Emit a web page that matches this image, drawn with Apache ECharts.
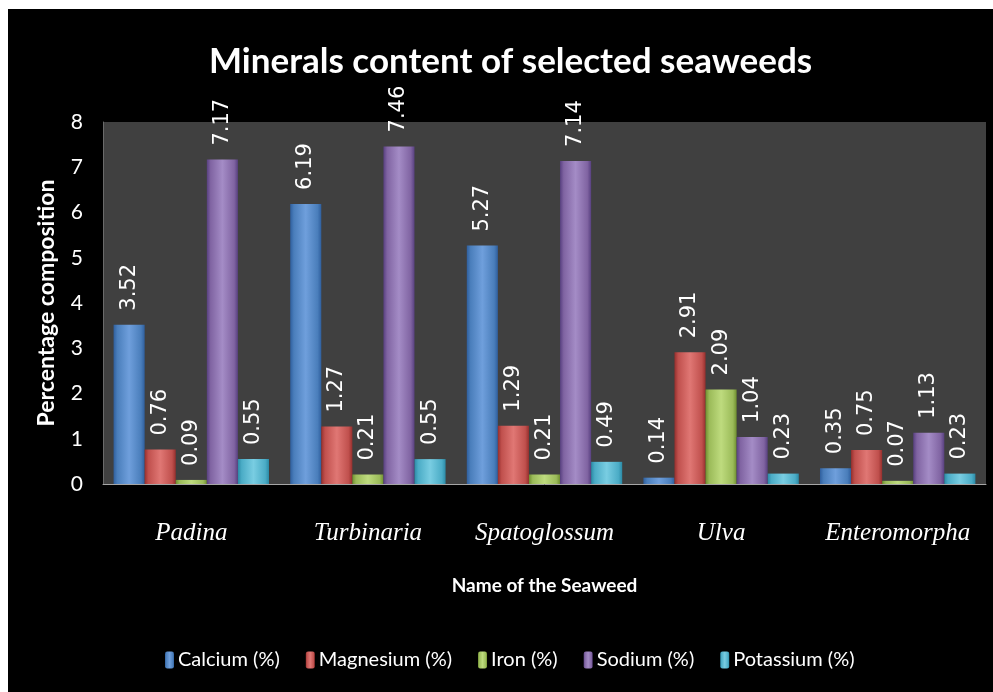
<!DOCTYPE html>
<html>
<head>
<meta charset="utf-8">
<script src="https://cdn.jsdelivr.net/npm/echarts@6/dist/echarts.min.js"></script>
<style>
html,body{margin:0;padding:0;background:#fff;}
#c{width:993px;height:692px;}
</style>
</head>
<body>
<div id="c"></div>
<script>
const categories = ['Padina', 'Turbinaria', 'Spatoglossum', 'Ulva', 'Enteromorpha'];
const seriesNames = ['Calcium (%)', 'Magnesium (%)', 'Iron (%)', 'Sodium (%)', 'Potassium (%)'];
const calcium   = [3.52, 6.19, 5.27, 0.14, 0.35];
const magnesium = [0.76, 1.27, 1.29, 2.91, 0.75];
const iron      = [0.09, 0.21, 0.21, 2.09, 0.07];
const sodium    = [7.17, 7.46, 7.14, 1.04, 1.13];
const potassium = [0.55, 0.55, 0.49, 0.23, 0.23];
const yTicks = [0, 1, 2, 3, 4, 5, 6, 7, 8];

const seriesValues = [calcium, magnesium, iron, sodium, potassium];
const palette = [
  ['#2f5f9e', '#4a7ebb', '#6f9fdc'],
  ['#962f2d', '#c0504d', '#e07774'],
  ['#6f8f2f', '#9bbb59', '#bedb7e'],
  ['#584080', '#8064a2', '#a48cc6'],
  ['#2b8aa6', '#4bacc6', '#79cde2']
];
function grad(p) {
  return new echarts.graphic.LinearGradient(0, 0, 1, 0, [
    {offset: 0, color: p[0]},
    {offset: 0.12, color: p[1]},
    {offset: 0.5, color: p[2]},
    {offset: 0.88, color: p[1]},
    {offset: 1, color: p[0]}
  ]);
}

const chart = echarts.init(document.getElementById('c'));
chart.setOption({
  backgroundColor: '#000',
  animation: false,
  graphic: [
    {type: 'rect', shape: {x: 0, y: 0, width: 993, height: 9}, style: {fill: '#fff'}, silent: true},
    {type: 'rect', shape: {x: 0, y: 0, width: 8, height: 692}, style: {fill: '#fff'}, silent: true}
  ],
  title: {
    text: 'Minerals content of selected seaweeds',
    left: 209,
    top: 44,
    padding: 0,
    textStyle: {color: '#fff', fontFamily: 'Lato', fontWeight: 'bold', fontSize: 35}
  },
  legend: {
    data: seriesNames,
    left: 160,
    top: 645,
    itemWidth: 9,
    itemHeight: 17,
    itemGap: 26,
    textStyle: {color: '#fff', fontFamily: 'Lato', fontSize: 20, padding: [0, 0, 0, -1]}
  },
  grid: {
    left: 103, right: 7, top: 122, bottom: 208,
    show: true, backgroundColor: '#404040', borderWidth: 0,
    containLabel: false
  },
  xAxis: {
    type: 'category',
    data: categories,
    name: 'Name of the Seaweed',
    nameLocation: 'middle',
    nameGap: 92,
    nameTextStyle: {color: '#fff', fontFamily: 'Lato', fontWeight: 'bold', fontSize: 19},
    axisLine: {lineStyle: {color: '#a6a6a6', width: 1}},
    axisTick: {show: false},
    axisLabel: {interval: 0, color: '#fff', fontFamily: 'Liberation Serif', fontStyle: 'italic', fontSize: 25, margin: 37}
  },
  yAxis: {
    type: 'value',
    min: 0, max: 8, interval: 1,
    name: 'Percentage composition',
    nameLocation: 'middle',
    nameGap: 45,
    nameTextStyle: {color: '#fff', fontFamily: 'Lato', fontWeight: 'bold', fontSize: 23},
    axisLine: {show: true, lineStyle: {color: '#6a6a6a'}},
    axisTick: {show: false},
    splitLine: {show: false},
    axisLabel: {color: '#fff', fontFamily: 'Lato', fontSize: 21, margin: 20,
      formatter: v => yTicks.includes(v) ? String(v) : ''}
  },
  series: seriesNames.map((n, i) => ({
    name: n,
    type: 'bar',
    data: seriesValues[i],
    barGap: '0%',
    barCategoryGap: '12%',
    itemStyle: {color: grad(palette[i])},
    label: {
      show: true,
      position: 'top',
      rotate: 90,
      align: 'left',
      verticalAlign: 'middle',
      distance: 14,
      color: '#fff',
      fontFamily: 'DejaVu Sans',
      fontSize: 21,
      formatter: p => p.value.toFixed(2)
    }
  }))
});
</script>
</body>
</html>
